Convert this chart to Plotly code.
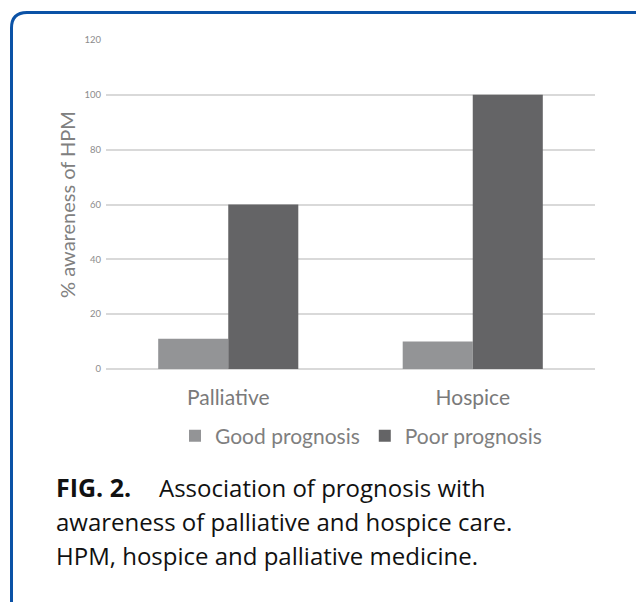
import plotly.graph_objects as go

# Data
categories = ["Palliative", "Hospice"]
good_prognosis = [11, 10]
poor_prognosis = [60, 100]
y_ticks = [0, 20, 40, 60, 80, 100, 120]

W, H = 636, 602
L, R, T, B = 106, 41, 40, 233
PW, PH = W - L - R, H - T - B


def px(x):
    return (x - L) / PW


def py(y):
    return (H - B - y) / PH


fig = go.Figure()
fig.add_trace(go.Bar(x=categories, y=good_prognosis, name="Good prognosis",
                     marker=dict(color="#939496", line=dict(width=0))))
fig.add_trace(go.Bar(x=categories, y=poor_prognosis, name="Poor prognosis",
                     marker=dict(color="#646466", line=dict(width=0))))

chart_font = "Lato, Carlito, sans-serif"
caption_font = "Open Sans, Noto Sans, sans-serif"

# framing rule on the left and top with rounded corner
border = (f"M{px(11.5)},{py(640)} L{px(11.5)},{py(28)} "
          f"Q{px(11.5)},{py(12.5)} {px(27)},{py(12.5)} L{px(660)},{py(12.5)}")

fig.update_layout(
    width=W, height=H,
    margin=dict(l=L, r=R, t=T, b=B, autoexpand=False),
    paper_bgcolor="white", plot_bgcolor="white",
    barmode="group", bargap=0.427, bargroupgap=0,
    font=dict(family=chart_font, color="#7f7f7f"),
    showlegend=True,
    legend=dict(orientation="h", x=px(361), xanchor="center",
                y=py(436), yanchor="middle",
                font=dict(family=chart_font, size=21, color="#7f7f7f"),
                bgcolor="rgba(0,0,0,0)", traceorder="normal"),
    xaxis=dict(showline=False, showgrid=False, zeroline=False, ticks="",
               tickfont=dict(family=chart_font, size=21, color="#7a7a7a"),
               ticklabelstandoff=14, automargin=False),
    yaxis=dict(range=[0, 120], tickvals=y_ticks, showline=False,
               showgrid=True, gridcolor="#d9d9d9", gridwidth=1.5,
               zeroline=True, zerolinecolor="#d9d9d9", zerolinewidth=1.5,
               ticks="", tickfont=dict(family=chart_font, size=9.5, color="#8c8c8c"),
               ticklabelstandoff=4, automargin=False,
               title=dict(text="% awareness of HPM", standoff=3,
                          font=dict(family=chart_font, size=20, color="#808080"))),
    shapes=[dict(type="path", path=border, xref="paper", yref="paper",
                 line=dict(color="#0b52a6", width=3), layer="above")],
)

# caption: (text, left x in px, centre y in px, size, bold)
caption_parts = [
    ("FIG. 2.", 54, 487, 25, True),
    ("Association of prognosis with", 157, 487, 24, False),
    ("awareness of palliative and hospice care.", 54, 521, 24, False),
    ("HPM, hospice and palliative medicine.", 54, 555, 24, False),
]
for text, xx, yy, size, bold in caption_parts:
    fig.add_annotation(text=f"<b>{text}</b>" if bold else text,
                       xref="paper", yref="paper",
                       x=px(xx), y=py(yy), xanchor="left", yanchor="middle",
                       showarrow=False,
                       font=dict(family=caption_font, size=size, color="#111111"))

fig.write_html("out.html")
